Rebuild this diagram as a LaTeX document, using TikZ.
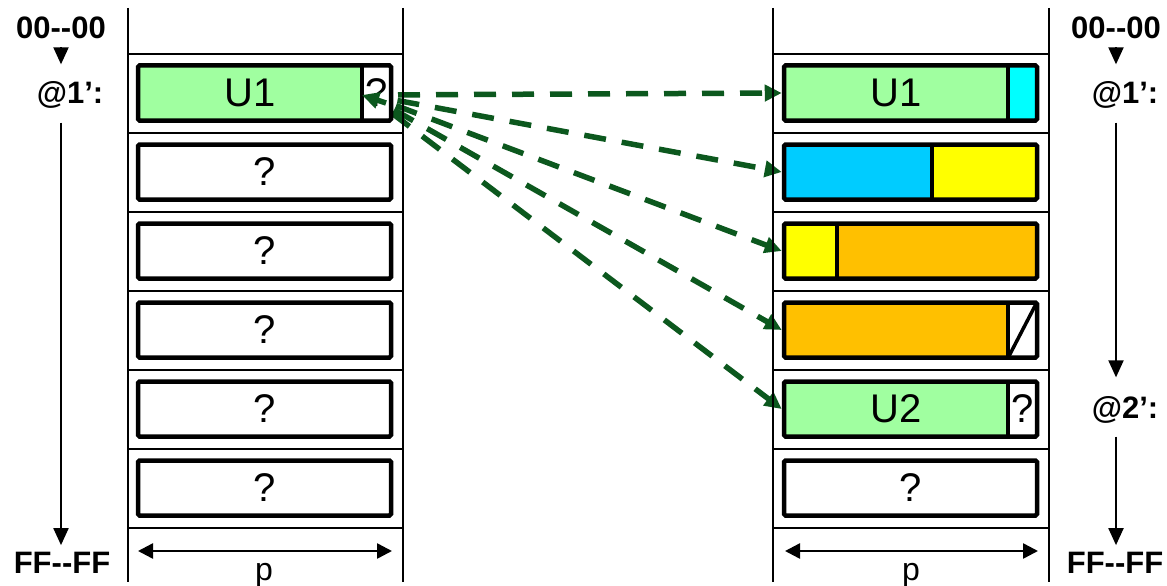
\documentclass[tikz,border=0pt]{standalone}
\usepackage{fontspec}
\setmainfont{Liberation Sans}
\usetikzlibrary{arrows.meta}
\pgfdeclarelayer{background}
\pgfsetlayers{background,main}
\definecolor{cgreen}{RGB}{160,255,160}
\definecolor{ccyan}{RGB}{0,255,255}
\definecolor{cblue}{RGB}{0,204,255}
\definecolor{cyellow}{RGB}{255,255,0}
\definecolor{corange}{RGB}{255,192,0}
\definecolor{dgreen}{RGB}{12,88,30}
\begin{document}
\begin{tikzpicture}[x=1pt,y=-1pt,
  thinline/.style={line width=1.5pt},
  cell/.style={draw, line width=4.5pt, rounded corners=1.5pt, minimum width=253pt, minimum height=55pt, inner sep=0pt},
  splitline/.style={line width=4.5pt},
  big/.style={font=\fontsize{40}{40}\selectfont, inner sep=0pt},
  lab/.style={font=\bfseries\fontsize{31}{31}\selectfont, inner sep=0pt},
  ptr/.style={line width=5.5pt, dgreen, dash pattern=on 22pt off 16pt, dash phase=8pt, -{Triangle[length=17pt,width=16pt]}},
  ptrhead/.style={line width=5.5pt, dgreen, -{Triangle[length=17pt,width=16pt]}},
  axis/.style={line width=2pt, -{Triangle[length=17pt,width=15pt]}},
  parrow/.style={line width=2.5pt, {Triangle[length=15pt,width=15pt]}-{Triangle[length=15pt,width=15pt]}},
  plab/.style={font=\fontsize{32}{32}\selectfont, inner sep=0pt, anchor=base}
]
\useasboundingbox (0,0) rectangle (1167,586);

% column frames
\foreach \x in {128,403,773,1049} \draw[thinline] (\x,8) -- (\x,582);
\foreach \y in {54,133,212,291,370,449,528} {
  \draw[thinline] (128,\y) -- (403,\y);
  \draw[thinline] (773,\y) -- (1049,\y);
}

% ---------- left column ----------
\fill[white] (362,65.5) rectangle (391,120.5);
\fill[cgreen] (138,65.5) rectangle (362,120.5);
\node[cell] (l1) at (264.5,93) {};
\draw[splitline] (362,65.5) -- (362,120.5);
\node[big] (l1t) at (250,93) {U1};
\node[big] (lq) at (377,93) {?};
\node[cell,big] (l2) at (264.5,172) {?};
\node[cell,big] (l3) at (264.5,251) {?};
\node[cell,big] (l4) at (264.5,330) {?};
\node[cell,big] (l5) at (264.5,409) {?};
\node[cell,big] (l6) at (264.5,488) {?};

% ---------- right column ----------
% row 1
\fill[cgreen] (784,65.5) rectangle (1008,120.5);
\fill[ccyan] (1008,65.5) rectangle (1037,120.5);
\node[cell] (r1) at (910.5,93) {};
\draw[splitline] (1008,65.5) -- (1008,120.5);
\node[big] (r1t) at (896,93) {U1};
% row 2
\fill[cblue] (784,144.5) rectangle (932,199.5);
\fill[cyellow] (932,144.5) rectangle (1037,199.5);
\node[cell] (r2) at (910.5,172) {};
\draw[splitline] (932,144.5) -- (932,199.5);
% row 3
\fill[cyellow] (784,223.5) rectangle (837,278.5);
\fill[corange] (837,223.5) rectangle (1037,278.5);
\node[cell] (r3) at (910.5,251) {};
\draw[splitline] (837,223.5) -- (837,278.5);
% row 4
\fill[corange] (784,302.5) rectangle (1008,357.5);
\node[cell] (r4) at (910.5,330) {};
\draw[splitline] (1008,302.5) -- (1008,357.5);
\draw[line width=3.5pt] (1009,356) -- (1036,304);
% row 5
\fill[cgreen] (784,381.5) rectangle (1008,436.5);
\node[cell] (r5) at (910.5,409) {};
\draw[splitline] (1008,381.5) -- (1008,436.5);
\node[big] (r5t) at (896,409) {U2};
\node[big] (r5q) at (1022.5,409) {?};
% row 6
\node[cell,big] (r6) at (910.5,488) {?};

% ---------- dashed pointers ----------
\coordinate (src) at (368,95);
\begin{pgfonlayer}{background}
\foreach \t in {r1,r2,r3,r4,r5}
  \draw[ptr] (src) -- (\t.west);
\end{pgfonlayer}
\draw[ptrhead] ([shift={(9pt,-10pt)}]lq.center) -- ([shift={(-15pt,-2pt)}]lq.center);

% ---------- address labels ----------
\node[lab] (lz) at (61,28) {00-{}-00};
\node[lab] (la1) at (70,95) {@1’:};
\node[lab] (lf) at (62,563) {FF-{}-FF};
\draw[axis, shorten <=8pt, shorten >=17pt] (lz.south) -- (lz |- la1.north);
\draw[axis, shorten <=14pt, shorten >=7pt] (lz |- la1.south) -- (lz |- lf.north);

\node[lab] (rz) at (1116,28) {00-{}-00};
\node[lab] (ra1) at (1125,95) {@1’:};
\node[lab] (ra2) at (1125,410) {@2’:};
\node[lab] (rf) at (1115,563) {FF-{}-FF};
\draw[axis, shorten <=8pt, shorten >=17pt] (rz.south) -- (rz |- ra1.north);
\draw[axis, shorten <=14pt, shorten >=19pt] (rz |- ra1.south) -- (rz |- ra2.north);
\draw[axis, shorten <=13pt, shorten >=7pt] (rz |- ra2.south) -- (rz |- rf.north);

% ---------- width p ----------
\coordinate (pl1) at (138,551);
\coordinate (pl2) at (392,551);
\coordinate (pr1) at (785,551);
\coordinate (pr2) at (1038,551);
\draw[parrow] (pl1) -- (pl2);
\draw[parrow] (pr1) -- (pr2);
\node[plab] (pl) at (264,580) {p};
\node[plab] (pr) at (911,580) {p};
\end{tikzpicture}
\end{document}
